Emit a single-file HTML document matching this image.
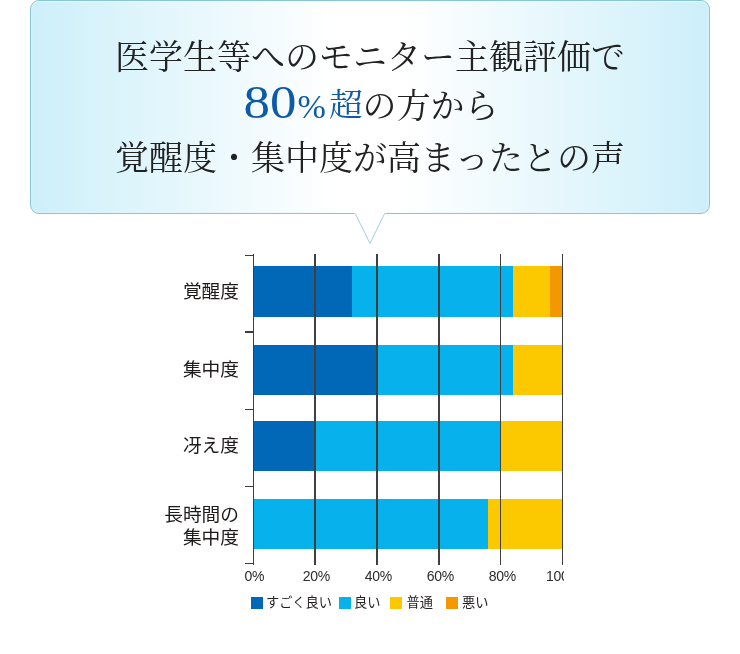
<!DOCTYPE html>
<html lang="ja">
<head>
<meta charset="utf-8">
<title>モニター主観評価</title>
<style>
html,body{margin:0;padding:0;background:#fff;}
body{width:740px;height:654px;position:relative;overflow:hidden;font-family:"Liberation Sans","Noto Sans CJK JP",sans-serif;}
.bubble{position:absolute;left:30px;top:0;width:678px;height:212px;border:1px solid #86c6d6;border-radius:9px;
  background:linear-gradient(90deg,#cdeffa 0%,#ffffff 45%,#ffffff 55%,#cdeffa 100%);
  box-shadow:inset 0 1px 0 rgba(255,255,255,.45),inset 0 0 3px rgba(228,250,255,.8);}
.tail{position:absolute;left:350px;top:208px;width:40px;height:40px;}
.t{position:absolute;left:30px;width:680px;text-align:center;white-space:nowrap;color:#222;
  font-family:"Liberation Serif","Noto Serif CJK JP","Noto Serif CJK SC",serif;font-size:34px;line-height:40px;letter-spacing:0;}
.t1{top:37.5px;}
.t2{top:82.6px;}
.t3{top:138.7px;}
.blue{color:#0d5ba8;}
.n80{font-size:46px;letter-spacing:0;display:inline-block;transform:scaleX(1.15);transform-origin:50% 50%;margin:0 5px 0 5px;line-height:40px;}
.pct{font-size:34px;margin-right:4.5px;}
.cho{font-size:32px;margin-right:0;display:inline-block;position:relative;top:-1.5px;transform:scaleX(1.06);line-height:40px;}
.chart{position:absolute;left:0;top:0;width:564px;height:654px;overflow:hidden;}
.bar{position:absolute;height:50.4px;}
.seg{position:absolute;top:0;height:100%;}
.c1{background:#0068b7;}
.c2{background:#06b1ec;}
.c3{background:#fcc800;}
.c4{background:#f39800;}
.grid{position:absolute;top:254px;width:1.5px;height:310.5px;background:#433f3e;}
.tick{position:absolute;left:245px;width:9px;height:1.7px;background:#3e3a39;}
.yl{position:absolute;left:119px;width:120px;text-align:right;font-size:18.7px;line-height:23.6px;color:#1f1b1a;white-space:nowrap;}
.xl{position:absolute;top:567.1px;width:60px;margin-left:-28.7px;text-align:center;font-size:14px;line-height:18px;color:#2b2b2b;letter-spacing:-0.3px;white-space:nowrap;}
.lg{position:absolute;top:594px;font-size:13.2px;line-height:18px;color:#231f1e;white-space:nowrap;}
.sq{position:absolute;top:596.5px;width:12px;height:12px;}
</style>
</head>
<body>
<div class="bubble"></div>
<svg class="tail" viewBox="0 0 40 40">
  <polygon points="4,4 36,4 36,5.5 35,5.5 20,35.3 5,5.5 4,5.5" fill="#ffffff"/>
  <polyline points="4.5,5.5 5.2,5.5 20,35.3 34.6,5.5 35.5,5.5" fill="none" stroke="#9acad6" stroke-width="0.9"/>
</svg>
<div class="t t1">医学生等へのモニター主観評価で</div>
<div class="t t2"><span class="blue"><span class="n80">80</span><span class="pct">%</span><span class="cho">超</span></span>の方から</div>
<div class="t t3">覚醒度・集中度が高まったとの声</div>

<div class="chart">
  <div class="bar" style="left:253px;top:266.4px;width:310px;">
    <div class="seg c1" style="left:0;width:99px;"></div>
    <div class="seg c2" style="left:99px;width:161px;"></div>
    <div class="seg c3" style="left:260px;width:37px;"></div>
    <div class="seg c4" style="left:297px;width:13px;"></div>
  </div>
  <div class="bar" style="left:253px;top:345px;width:310px;">
    <div class="seg c1" style="left:0;width:124px;"></div>
    <div class="seg c2" style="left:124px;width:136px;"></div>
    <div class="seg c3" style="left:260px;width:50px;"></div>
  </div>
  <div class="bar" style="left:253px;top:421.1px;width:310px;">
    <div class="seg c1" style="left:0;width:62px;"></div>
    <div class="seg c2" style="left:62px;width:186px;"></div>
    <div class="seg c3" style="left:248px;width:62px;"></div>
  </div>
  <div class="bar" style="left:253px;top:499px;width:310px;">
    <div class="seg c2" style="left:0;width:235px;"></div>
    <div class="seg c3" style="left:235px;width:75px;"></div>
  </div>

  <div class="grid" style="left:252.55px;"></div>
  <div class="grid" style="left:314.4px;"></div>
  <div class="grid" style="left:376.25px;"></div>
  <div class="grid" style="left:438.1px;"></div>
  <div class="grid" style="left:499.95px;"></div>
  <div class="grid" style="left:561.8px;"></div>

  <div class="tick" style="top:254.5px;"></div>
  <div class="tick" style="top:331px;"></div>
  <div class="tick" style="top:408.5px;"></div>
  <div class="tick" style="top:485.6px;"></div>
  <div class="tick" style="top:562.75px;"></div>

  <div class="yl" style="top:280.3px;">覚醒度</div>
  <div class="yl" style="top:358.3px;">集中度</div>
  <div class="yl" style="top:434.2px;">冴え度</div>
  <div class="yl" style="top:504.2px;line-height:22.5px;">長時間の<br>集中度</div>

  <div class="xl" style="left:253px;">0%</div>
  <div class="xl" style="left:315px;">20%</div>
  <div class="xl" style="left:377px;">40%</div>
  <div class="xl" style="left:439px;">60%</div>
  <div class="xl" style="left:501px;">80%</div>
  <div class="xl" style="left:562px;">100%</div>

  <div class="sq c1" style="left:251px;"></div><div class="lg" style="left:266px;">すごく良い</div>
  <div class="sq c2" style="left:338.7px;"></div><div class="lg" style="left:354px;">良い</div>
  <div class="sq c3" style="left:390.3px;"></div><div class="lg" style="left:406.5px;">普通</div>
  <div class="sq c4" style="left:445.8px;"></div><div class="lg" style="left:462px;">悪い</div>
</div>
</body>
</html>
